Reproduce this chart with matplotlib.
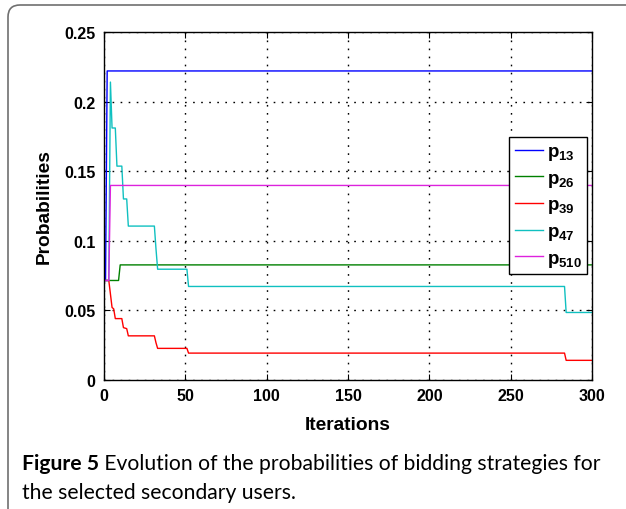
import numpy as np
import matplotlib
matplotlib.use('Agg')
import matplotlib.pyplot as plt
from matplotlib.patches import FancyBboxPatch
from matplotlib.ticker import FuncFormatter

# Step-like probability traces (iteration, probability)
p13_x = [1, 2, 300]
p13_y = [0.0714, 0.222, 0.222]

p26_x = [1, 9, 10, 300]
p26_y = [0.0714, 0.0714, 0.0826, 0.0826]

p39_x = [1, 3, 5, 6, 7, 11, 12, 14, 15, 31, 32, 33, 51, 52, 283, 284, 300]
p39_y = [0.0714, 0.0714, 0.052, 0.051, 0.044, 0.044, 0.0375, 0.0368, 0.0316,
         0.0316, 0.0266, 0.0226, 0.0226, 0.0192, 0.0192, 0.014, 0.014]

p47_x = [1, 3, 4, 5, 7, 8, 11, 12, 14, 15, 31, 32, 33, 51, 52, 283, 284, 300]
p47_y = [0.0714, 0.0714, 0.214, 0.181, 0.181, 0.1536, 0.1536, 0.130, 0.130,
         0.1105, 0.1105, 0.094, 0.0795, 0.0795, 0.0671, 0.0671, 0.0484, 0.0484]

p510_x = [1, 3, 4, 300]
p510_y = [0.0714, 0.0714, 0.1397, 0.1397]

labels = [r'$\mathbf{p_{13}}$', r'$\mathbf{p_{26}}$', r'$\mathbf{p_{39}}$',
          r'$\mathbf{p_{47}}$', r'$\mathbf{p_{510}}$']
colors = ['#0000ff', '#008000', '#ff0000', '#10c0c0', '#dd22dd']

plt.rcParams['font.family'] = 'Liberation Sans'
plt.rcParams['mathtext.fontset'] = 'custom'
plt.rcParams['mathtext.bf'] = 'Liberation Sans:bold'
plt.rcParams['mathtext.rm'] = 'Liberation Sans'

fig = plt.figure(figsize=(6.26, 5.10), dpi=100)
ax = fig.add_axes([0.166, 0.2533, 0.780, 0.682])

series = [(p13_x, p13_y), (p26_x, p26_y), (p39_x, p39_y),
          (p47_x, p47_y), (p510_x, p510_y)]
for (x, y), lab, c in zip(series, labels, colors):
    ax.plot(x, y, color=c, lw=1.0, label=lab)

ax.set_xlim(0, 300)
ax.set_ylim(0, 0.25)
ax.set_xticks(np.arange(0, 301, 50))
ax.set_yticks(np.arange(0, 0.251, 0.05))
ax.yaxis.set_major_formatter(FuncFormatter(lambda v, p: '%g' % round(v, 4)))
ax.grid(True, color='black', linestyle=(0, (1.2, 4.6)), linewidth=1.0)
ax.tick_params(direction='in', top=True, right=True, length=4, width=0.8,
               labelsize=11.5, pad=6)
for lbl in ax.get_xticklabels() + ax.get_yticklabels():
    lbl.set_fontweight('bold')
for s in ax.spines.values():
    s.set_linewidth(1.0)

ax.set_xlabel('Iterations', fontsize=13.8, fontweight='bold', labelpad=9)
ax.set_ylabel('Probabilities', fontsize=13.8, fontweight='bold', labelpad=8)

leg = ax.legend(loc='center right', bbox_to_anchor=(0.99, 0.5), fontsize=13.5,
                handlelength=1.5, handletextpad=0.2, labelspacing=0.4,
                borderpad=0.3, borderaxespad=0, fancybox=False, framealpha=1)
leg.get_frame().set_edgecolor('black')
leg.get_frame().set_linewidth(1.0)

# Caption
cap_size = 15.2
t1 = fig.text(22 / 626, 1 - 474 / 510, 'Figure 5', fontsize=cap_size,
              fontweight='bold', family='Lato', va='bottom', ha='left')
ax.annotate(' Evolution of the probabilities of bidding strategies for',
            xy=(1, 0), xycoords=t1, va='bottom', ha='left',
            fontsize=cap_size, family='Lato')
fig.text(22 / 626, 1 - 503 / 510, 'the selected secondary users.',
         fontsize=cap_size, family='Lato', va='bottom', ha='left')

# Rounded frame around the figure
frame = FancyBboxPatch((8, -40), 700, 504 + 40, boxstyle='round,pad=0,rounding_size=12',
                       transform=None, facecolor='none', edgecolor='#707070', lw=1.2)
fig.add_artist(frame)

fig.savefig('out.png', dpi=100)
